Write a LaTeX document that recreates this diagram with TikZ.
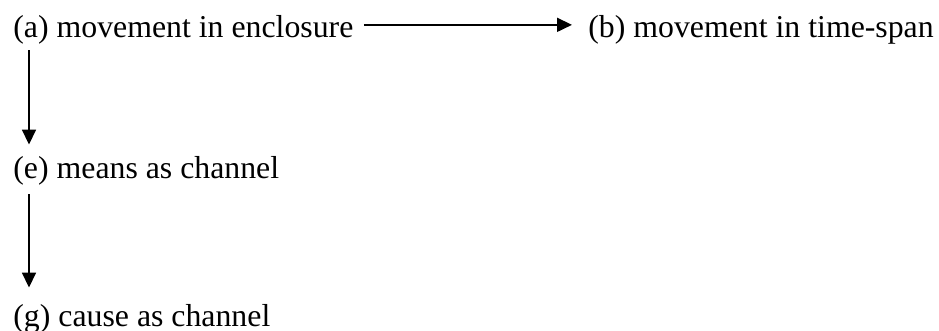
\documentclass[tikz,border=0pt]{standalone}
\usepackage{fontspec}
\setmainfont{Liberation Serif}
\usetikzlibrary{arrows.meta}
\begin{document}
\begin{tikzpicture}[x=0.5pt,y=-0.5pt,
  lbl/.style={anchor=base west,inner sep=0pt,font=\fontsize{15.9}{19}\selectfont},
  arr/.style={line width=0.9pt,-{Triangle[length=7.5pt,width=7pt]}}]
\useasboundingbox (0,0) rectangle (939,331);
\node[lbl] (a) at (13,38) {(a) movement in enclosure};
\node[lbl] (b) at (588,38) {(b) movement in time-span};
\node[lbl] (e) at (13,179) {(e) means as channel};
\node[lbl] (g) at (13,327) {(g) cause as channel};
\draw[arr] ([shift={(10,-5.5)}]a.east) -- ([shift={(-16,-5.5)}]b.west);
\draw[arr] ([shift={(16,5)}]a.south west) -- ([shift={(16,-12)}]e.north west);
\draw[arr] ([shift={(16,8)}]e.south west) -- ([shift={(16,-17)}]g.north west);
\end{tikzpicture}
\end{document}
